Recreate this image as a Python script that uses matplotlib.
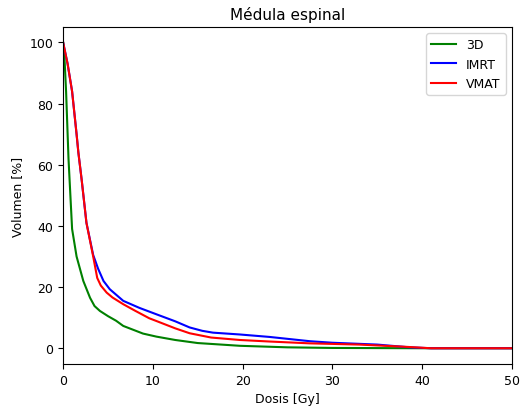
import matplotlib
matplotlib.use("Agg")
import matplotlib.pyplot as plt

dose_3d = [0, 0.15, 0.33, 0.6, 1.0, 1.5, 2.25, 3.0, 3.5, 4.1, 5.0, 5.9, 6.7, 8.9, 10.4, 12.5, 15.0, 19.7, 25, 30, 35, 40, 41, 50]
vol_3d = [100, 95, 84, 62, 39, 30, 22, 16.5, 13.8, 12.2, 10.5, 9.0, 7.3, 4.8, 3.8, 2.7, 1.7, 0.8, 0.3, 0.1, 0.05, 0, 0, 0]

dose_imrt = [0, 0.5, 1.0, 1.5, 1.7, 2.07, 2.6, 3.35, 3.9, 4.5, 5.2, 6.7, 8.5, 10.4, 12.5, 14.1, 15.5, 16.7, 19.7, 23, 27.5, 30, 35, 38.6, 41, 50]
vol_imrt = [100, 93, 84, 70, 64, 55, 41, 30.5, 26, 22, 19.3, 15.5, 13.2, 11.1, 8.8, 6.8, 5.7, 5.1, 4.5, 3.7, 2.3, 1.8, 1.2, 0.3, 0, 0]

dose_vmat = [0, 0.5, 1.0, 1.5, 1.7, 2.07, 2.6, 3.35, 3.8, 4.2, 4.85, 5.5, 6.7, 8.0, 9.6, 10.4, 12.5, 14.1, 16.5, 19.7, 23, 27.5, 33, 38, 41, 50]
vol_vmat = [100, 93, 84, 70, 64, 55, 41, 30, 23, 20.5, 18.2, 16.6, 14.4, 12.3, 9.8, 8.9, 6.5, 4.9, 3.5, 2.7, 2.2, 1.6, 1.2, 0.5, 0, 0]

labels = ["3D", "IMRT", "VMAT"]
colors = ["green", "blue", "red"]

fig = plt.figure(figsize=(5.26, 4.14), dpi=100)
ax = fig.add_axes([0.12, 0.118, 0.853, 0.814])
for d, v, lab, c in zip([dose_3d, dose_imrt, dose_vmat], [vol_3d, vol_imrt, vol_vmat], labels, colors):
    ax.plot(d, v, color=c, label=lab, linewidth=1.5)
ax.set_xlim(0, 50)
ax.set_ylim(-5.2, 105)
ax.set_xticks([0, 10, 20, 30, 40, 50])
ax.set_yticks([0, 20, 40, 60, 80, 100])
ax.set_xlabel("Dosis [Gy]", fontsize=9)
ax.set_ylabel("Volumen [%]", fontsize=9)
ax.set_title("Médula espinal", fontsize=11)
ax.tick_params(labelsize=9)
ax.legend(loc="upper right", fontsize=9)
fig.savefig("out.png", dpi=100)
